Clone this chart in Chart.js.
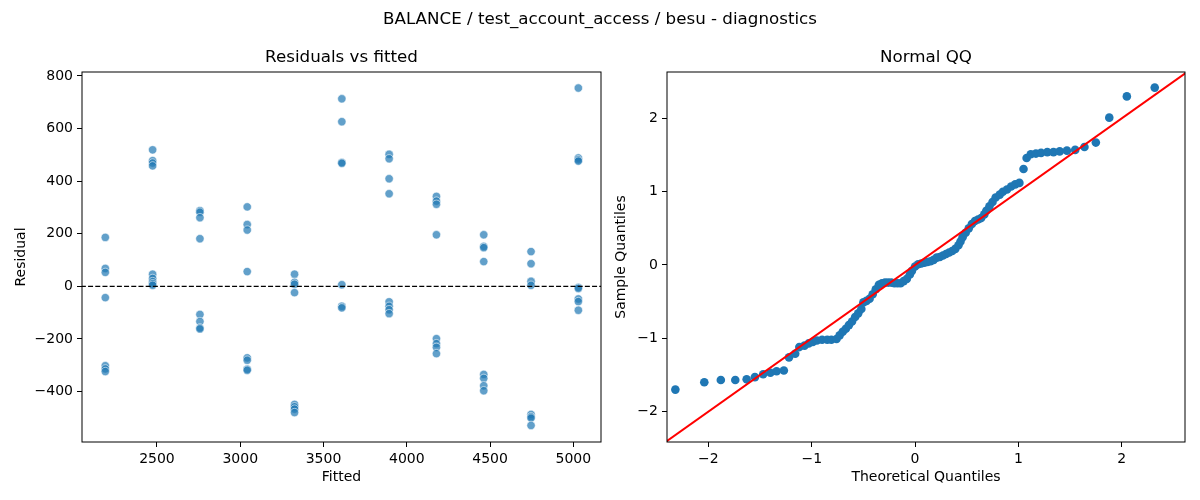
<!DOCTYPE html>
<html>
<head>
<meta charset="utf-8">
<script src="https://cdn.jsdelivr.net/npm/chart.js@4.4.1/dist/chart.umd.min.js"></script>
<style>
  html, body { margin: 0; padding: 0; background: #fff; }
  #wrap { position: relative; width: 1200px; height: 500px; }
  .title {
    position: absolute; text-align: center; color: #000;
    font-family: "DejaVu Sans", sans-serif; font-size: 16.7px; line-height: 22px;
  }
  #suptitle { left: 0; top: 7px; width: 1200px; }
  #title-left { left: 82px; top: 45px; width: 519px; }
  #title-right { left: 667px; top: 45px; width: 518px; }
  #left { position: absolute; left: 0; top: 0; }
  #right { position: absolute; left: 610px; top: 0; }
</style>
</head>
<body>
<div id="wrap">
  <canvas id="left" width="610" height="500"></canvas>
  <canvas id="right" width="590" height="500"></canvas>
  <div id="suptitle" class="title">BALANCE / test_account_access / besu - diagnostics</div>
  <div id="title-left" class="title">Residuals vs fitted</div>
  <div id="title-right" class="title">Normal QQ</div>
</div>
<script>
// ---- data ----
const fittedLevels = [2190, 2474, 2758, 3042, 3326, 3610, 3894, 4178, 4462, 4746, 5030];
const residualGroups = [
    [186, 68, 53, -43, -302, -314, -324],
    [519, 478, 469, 458, 46, 30, 18, 10, 4],
    [288, 282, 261, 181, -107, -134, -158, -162],
    [302, 235, 214, 56, -272, -281, -315, -319],
    [46, 15, 8, -24, -449, -458, -467, -480],
    [713, 626, 471, 468, 6, -76, -82],
    [502, 485, 409, 352, -59, -76, -89, -104],
    [342, 324, 312, 196, -199, -218, -232, -256],
    [196, 152, 147, 94, -335, -350, -378, -397],
    [132, 86, 19, 4, -487, -496, -501, -529],
    [754, 488, 481, 476, -4, -8, -48, -58, -91]
];
const fittedTicks = [2500, 3000, 3500, 4000, 4500, 5000];
const residualTicks = [-400, -200, 0, 200, 400, 600, 800];

const qqTheoretical = [
    -2.32, -2.04, -1.88, -1.74, -1.63, -1.55, -1.47, -1.40, -1.34, -1.27,
    -1.22, -1.16, -1.12, -1.07, -1.03, -0.99, -0.95, -0.90, -0.85, -0.81,
    -0.76, -0.73, -0.70, -0.67, -0.64, -0.61, -0.58, -0.55, -0.52, -0.50,
    -0.47, -0.44, -0.41, -0.38, -0.35, -0.32, -0.29, -0.26, -0.23, -0.20,
    -0.17, -0.14, -0.11, -0.08, -0.05, -0.03, 0.00, 0.03, 0.06, 0.09,
    0.12, 0.15, 0.18, 0.21, 0.24, 0.27, 0.30, 0.33, 0.36, 0.39,
    0.42, 0.44, 0.46, 0.49, 0.52, 0.55, 0.58, 0.61, 0.64, 0.67,
    0.69, 0.72, 0.75, 0.78, 0.82, 0.85, 0.89, 0.93, 0.97, 1.01,
    1.05, 1.08, 1.12, 1.17, 1.22, 1.28, 1.34, 1.40, 1.47, 1.55,
    1.64, 1.75, 1.88, 2.05, 2.32
];
const qqSample = [
    -1.70, -1.60, -1.57, -1.57, -1.56, -1.53, -1.49, -1.47, -1.45, -1.44,
    -1.26, -1.21, -1.12, -1.10, -1.07, -1.05, -1.03, -1.02, -1.02, -1.02,
    -1.01, -0.96, -0.91, -0.87, -0.82, -0.77, -0.71, -0.66, -0.60, -0.51,
    -0.49, -0.46, -0.40, -0.33, -0.27, -0.25, -0.24, -0.24, -0.24, -0.25,
    -0.25, -0.25, -0.22, -0.19, -0.13, -0.08, -0.02, 0.01, 0.02, 0.03,
    0.04, 0.05, 0.07, 0.10, 0.11, 0.13, 0.15, 0.17, 0.19, 0.22,
    0.27, 0.32, 0.38, 0.44, 0.50, 0.56, 0.60, 0.62, 0.64, 0.69,
    0.74, 0.80, 0.86, 0.92, 0.96, 1.00, 1.03, 1.07, 1.10, 1.12,
    1.31, 1.46, 1.51, 1.52, 1.53, 1.54, 1.54, 1.55, 1.56, 1.57,
    1.61, 1.67, 2.01, 2.30, 2.42
];
const qqTicks = [-2, -1, 0, 1, 2];
const qqLineEnds = [-3, 3];

// ---- shared styling ----
const FONT = '"DejaVu Sans", sans-serif';
const minus = v => String(v).replace('-', '\u2212');

// draws the black box round the plot area
const frame = {
    id: 'frame',
    afterDraw(chart) {
        const { ctx, chartArea: a } = chart;
        ctx.save();
        ctx.strokeStyle = '#000';
        ctx.lineWidth = 1;
        ctx.strokeRect(a.left, a.top, a.right - a.left, a.bottom - a.top);
        ctx.restore();
    }
};

function axis(ticks, min, max, title, titlePad, isY, size) {
    return {
        type: 'linear',
        min: min,
        max: max,
        afterBuildTicks: s => { s.ticks = ticks.map(v => ({ value: v })); },
        afterFit: s => { if (isY) s.width = size; else s.height = size; },
        border: { display: false },
        grid: { drawOnChartArea: false, drawTicks: true, tickLength: 5, color: '#000' },
        ticks: {
            color: '#000',
            padding: 4,
            maxRotation: 0,
            autoSkip: false,
            font: { family: FONT, size: 14 },
            callback: v => minus(v)
        },
        title: {
            display: true,
            text: title,
            color: '#000',
            font: { family: FONT, size: 14 },
            padding: titlePad
        }
    };
}

// =============================
// Residuals vs fitted
// =============================
const residualPoints = fittedLevels.flatMap((x, i) => residualGroups[i].map(y => ({ x: x, y: y })));

new Chart(document.getElementById('left'), {
    type: 'scatter',
    data: {
        datasets: [{
            data: [{ x: 2000, y: 0 }, { x: 5200, y: 0 }],
            showLine: true,
            borderColor: '#000',
            borderWidth: 1.3,
            borderDash: [5, 2.2],
            pointRadius: 0
        }, {
            data: residualPoints,
            backgroundColor: 'rgba(31,119,180,0.7)',
            borderColor: 'rgba(255,255,255,0.7)',
            borderWidth: 0.8,
            pointRadius: 4.2
        }]
    },
    options: {
        responsive: false,
        animation: false,
        layout: { padding: { left: 0, right: 9, top: 72, bottom: 0 } },
        plugins: {
            legend: { display: false },
            tooltip: { enabled: false },
            title: { display: false }
        },
        scales: {
            x: axis(fittedTicks, 2050, 5166, 'Fitted', { top: 0, bottom: 14.6 }, false, 58),
            y: axis(residualTicks, -592, 815, 'Residual', { top: 12.6, bottom: 0 }, true, 82)
        }
    },
    plugins: [frame]
});

// =============================
// Normal QQ
// =============================
const qqPoints = qqTheoretical.map((x, i) => ({ x: x, y: qqSample[i] }));

new Chart(document.getElementById('right'), {
    type: 'scatter',
    data: {
        datasets: [{
            data: qqLineEnds.map(v => ({ x: v, y: v })),
            showLine: true,
            borderColor: '#ff0000',
            borderWidth: 2,
            pointRadius: 0
        }, {
            data: qqPoints,
            backgroundColor: '#1f77b4',
            borderColor: '#1f77b4',
            borderWidth: 0,
            pointRadius: 4.3
        }]
    },
    options: {
        responsive: false,
        animation: false,
        layout: { padding: { left: 0, right: 15, top: 72, bottom: 0 } },
        plugins: {
            legend: { display: false },
            tooltip: { enabled: false },
            title: { display: false }
        },
        scales: {
            x: axis(qqTicks, -2.401, 2.613, 'Theoretical Quantiles', { top: 0, bottom: 14.6 }, false, 58),
            y: axis(qqTicks, -2.415, 2.633, 'Sample Quantiles', { top: 2.6, bottom: 0 }, true, 57)
        }
    },
    plugins: [frame]
});
</script>
</body>
</html>
